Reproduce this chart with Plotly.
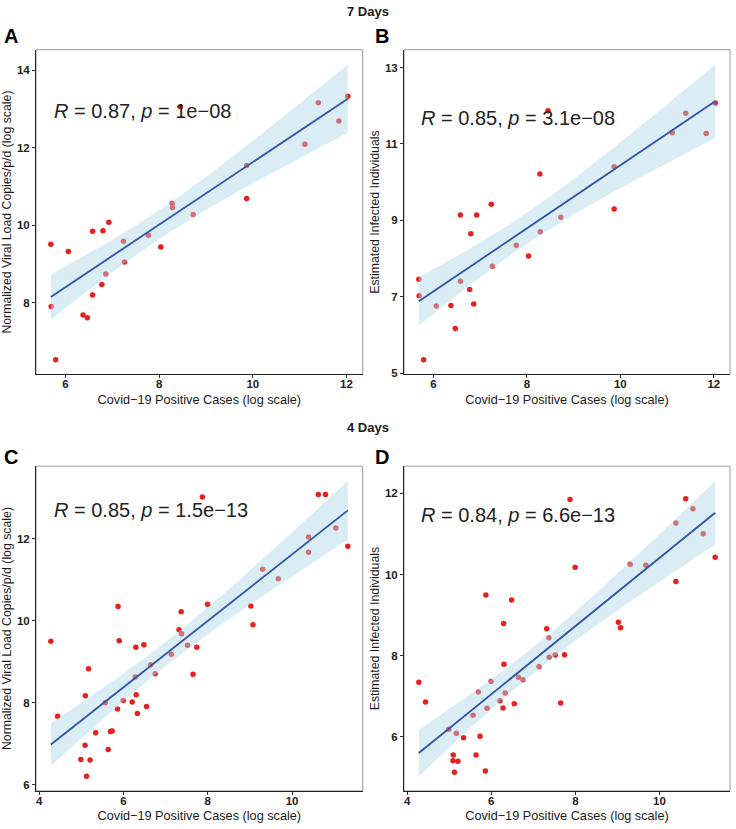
import numpy as np
import plotly.graph_objects as go

# ---------------- data ----------------
# 7-day panels (A, B) share the positive-case x values
x7 = [5.687, 5.694, 5.79, 6.06, 6.375, 6.467, 6.577, 6.577, 6.776, 6.80, 6.861, 6.925,
      7.238, 7.26, 7.772, 8.036, 8.278, 8.285, 8.452, 8.726, 9.868, 9.868, 11.113,
      11.40, 11.838, 12.03]
yA = [9.51, 7.90, 6.53, 9.325, 7.68, 7.61, 9.846, 8.197, 8.47, 9.86, 8.744, 10.077,
      9.59, 9.05, 9.74, 9.436, 10.56, 10.46, 13.06, 10.28, 11.54, 10.69, 12.09,
      13.16, 12.69, 13.33]
yB = [7.46, 7.03, 5.355, 6.757, 6.775, 6.17, 9.14, 7.41, 7.19, 8.65, 6.81, 9.14,
      9.42, 7.80, 8.35, 8.065, 10.21, 8.705, 11.87, 9.08, 10.40, 9.30, 11.29,
      11.805, 11.27, 12.07]

# 4-day panels (C, D) share the positive-case x values
x4 = [4.276, 4.435, 4.988, 5.088, 5.095, 5.123, 5.17, 5.206, 5.34, 5.566, 5.637, 5.692,
      5.731, 5.858, 5.87, 5.898, 5.993, 6.206, 6.278, 6.293, 6.301, 6.329, 6.483,
      6.546, 6.645, 6.752, 7.135, 7.317, 7.369, 7.377, 7.519, 7.65, 7.74, 7.871,
      7.994, 9.022, 9.073, 9.302, 9.674, 10.39, 10.39, 10.623, 10.794, 11.039, 11.324]
yC = [9.496, 7.67, 6.612, 6.96, 8.171, 6.208, 8.826, 6.604, 7.267, 8.0, 6.855, 7.299,
      7.307, 7.848, 10.344, 9.512, 8.05, 8.018, 8.624, 9.35, 8.195, 7.735, 9.415,
      7.905, 8.922, 8.704, 9.181, 9.779, 10.215, 9.682, 9.399, 8.696, 9.35, 13.018,
      10.40, 10.36, 9.90, 11.257, 11.023, 12.04, 11.67, 13.08, 13.08, 12.258, 11.814]
yD = [7.347, 6.857, 6.188, 5.412, 5.551, 5.127, 6.09, 5.396, 5.976, 6.531, 5.551, 7.102,
      6.016, 5.159, 9.494, 6.702, 7.363, 6.89, 6.71, 8.792, 7.788, 7.078, 9.371,
      6.816, 7.469, 7.404, 7.731, 8.661, 8.441, 7.959, 8.016, 6.833, 8.024, 11.853,
      10.18, 8.824, 8.686, 10.253, 10.229, 11.273, 9.829, 11.869, 11.624, 11.004, 10.424]

panel_letters = ["A", "B", "C", "D"]
stat_labels = ["<i>R</i> = 0.87, <i>p</i> = 1e\u221208",
               "<i>R</i> = 0.85, <i>p</i> = 3.1e\u221208",
               "<i>R</i> = 0.85, <i>p</i> = 1.5e\u221213",
               "<i>R</i> = 0.84, <i>p</i> = 6.6e\u221213"]
x_title = "Covid\u221219 Positive Cases (log scale)"
y_titles = ["Normalized Viral Load Copies/p/d (log scale)", "Estimated Infected Individuals",
            "Normalized Viral Load Copies/p/d (log scale)", "Estimated Infected Individuals"]
row_titles = ["7 Days", "4 Days"]

panels = [(x7, yA), (x7, yB), (x4, yC), (x4, yD)]

# ---------------- helpers ----------------
def t975(df):
    z = 1.959963985
    g1 = (z**3 + z) / 4
    g2 = (5 * z**5 + 16 * z**3 + 3 * z) / 96
    g3 = (3 * z**7 + 19 * z**5 + 17 * z**3 - 15 * z) / 384
    return z + g1 / df + g2 / df**2 + g3 / df**3

def lm_band(x, y, n=80):
    x = np.asarray(x, float); y = np.asarray(y, float)
    N = len(x)
    b, a = np.polyfit(x, y, 1)
    res = y - (a + b * x)
    s = np.sqrt(np.sum(res**2) / (N - 2))
    xm = x.mean(); sxx = np.sum((x - xm) ** 2)
    gx = np.linspace(x.min(), x.max(), n)
    fit = a + b * gx
    se = s * np.sqrt(1 / N + (gx - xm) ** 2 / sxx)
    t = t975(N - 2)
    return gx, fit, fit - t * se, fit + t * se

def expand(lo, hi, f=0.05):
    d = hi - lo
    return [lo - f * d, hi + f * d]

# ---------------- layout geometry ----------------
W, H = 736, 829
xdoms = [[36 / W, 362.7 / W], [404 / W, 730 / W]]
ydoms = [[1 - 376.7 / H, 1 - 50 / H], [1 - 795.7 / H, 1 - 469 / H]]
xticks = [[6, 8, 10, 12], [6, 8, 10, 12], [4, 6, 8, 10], [4, 6, 8, 10]]
yticks = [[8, 10, 12, 14], [5, 7, 9, 11, 13], [6, 8, 10, 12], [6, 8, 10, 12]]
stat_pos = [(0.048, 0.811), (0.047, 0.789), (0.048, 0.864), (0.047, 0.851)]
letter_pos = [(1.5, 36), (373, 36), (1.5, 460), (373, 460)]

FONT = "Liberation Sans, Arial, Helvetica, sans-serif"
RED = "rgb(230,32,30)"
BAND = "rgba(173,216,230,0.45)"
LINE = "#2F54A5"

fig = go.Figure()
layout = dict(width=W, height=H, margin=dict(l=0, r=0, t=0, b=0),
              paper_bgcolor="white", plot_bgcolor="white", showlegend=False,
              font=dict(family=FONT, color="#1a1a1a"))
annotations = []
shapes = []

for i, (xs, ys) in enumerate(panels):
    k = "" if i == 0 else str(i + 1)
    xa, ya = "x" + k, "y" + k
    gx, fit, lo, hi = lm_band(xs, ys)
    # points
    fig.add_trace(go.Scatter(x=xs, y=ys, mode="markers", xaxis=xa, yaxis=ya,
                             marker=dict(color=RED, size=5.5, line=dict(width=0)),
                             hoverinfo="skip"))
    # confidence band (drawn over points, as in ggplot)
    fig.add_trace(go.Scatter(x=np.concatenate([gx, gx[::-1]]),
                             y=np.concatenate([hi, lo[::-1]]),
                             mode="lines", fill="toself", fillcolor=BAND,
                             line=dict(width=0), xaxis=xa, yaxis=ya, hoverinfo="skip"))
    # fit line
    fig.add_trace(go.Scatter(x=gx, y=fit, mode="lines", line=dict(color=LINE, width=1.8),
                             xaxis=xa, yaxis=ya, hoverinfo="skip"))

    xr = expand(min(xs), max(xs))
    yr = expand(min(min(ys), lo.min()), max(max(ys), hi.max()))
    col, row = i % 2, i // 2
    layout["xaxis" + k] = dict(domain=xdoms[col], anchor=ya, range=xr,
                               tickvals=xticks[i], ticks="outside", ticklen=3,
                               tickcolor="#333", tickwidth=1, ticklabelstandoff=-4,
                               showline=True, linecolor="#222", linewidth=1,
                               showgrid=False, zeroline=False,
                               tickfont=dict(size=11.5, color="#222", family=FONT, weight="bold"),
                               title=dict(text=x_title, standoff=5,
                                          font=dict(size=12.7, color="#1a1a1a", family=FONT)))
    layout["yaxis" + k] = dict(domain=ydoms[row], anchor=xa, range=yr,
                               tickvals=yticks[i], ticks="outside", ticklen=3,
                               tickcolor="#333", tickwidth=1,
                               showline=True, linecolor="#222", linewidth=1,
                               showgrid=False, zeroline=False,
                               tickfont=dict(size=11.5, color="#222", family=FONT, weight="bold"),
                               title=dict(text=y_titles[i], standoff=2,
                                          font=dict(size=12.3, color="#1a1a1a", family=FONT)))
    # grey panel border
    shapes.append(dict(type="rect", xref=xa + " domain", yref=ya + " domain",
                       x0=0, x1=1, y0=0, y1=1, line=dict(color="#9a9a9a", width=1),
                       layer="below"))
    # correlation label
    sx, sy = stat_pos[i]
    annotations.append(dict(text=stat_labels[i], xref=xa + " domain", yref=ya + " domain",
                            x=sx, y=sy, xanchor="left", yanchor="middle", showarrow=False,
                            font=dict(size=20, color="#222", family=FONT)))
    # panel letter
    lx, ly = letter_pos[i]
    annotations.append(dict(text="<b>%s</b>" % panel_letters[i], xref="paper", yref="paper",
                            x=lx / W, y=1 - ly / H, xanchor="left", yanchor="middle",
                            showarrow=False, font=dict(size=20, color="black", family=FONT)))

for j, t in enumerate(row_titles):
    yc = [12, 430][j]
    annotations.append(dict(text="<b>%s</b>" % t, xref="paper", yref="paper",
                            x=368 / W, y=1 - yc / H, xanchor="center", yanchor="middle",
                            showarrow=False, font=dict(size=13, color="#1a1a1a", family=FONT)))

layout["annotations"] = annotations
layout["shapes"] = shapes
fig.update_layout(**layout)
fig.write_html("out.html", config={"displayModeBar": False},
               post_script="document.body.style.margin='0';document.body.style.overflow='hidden';")
